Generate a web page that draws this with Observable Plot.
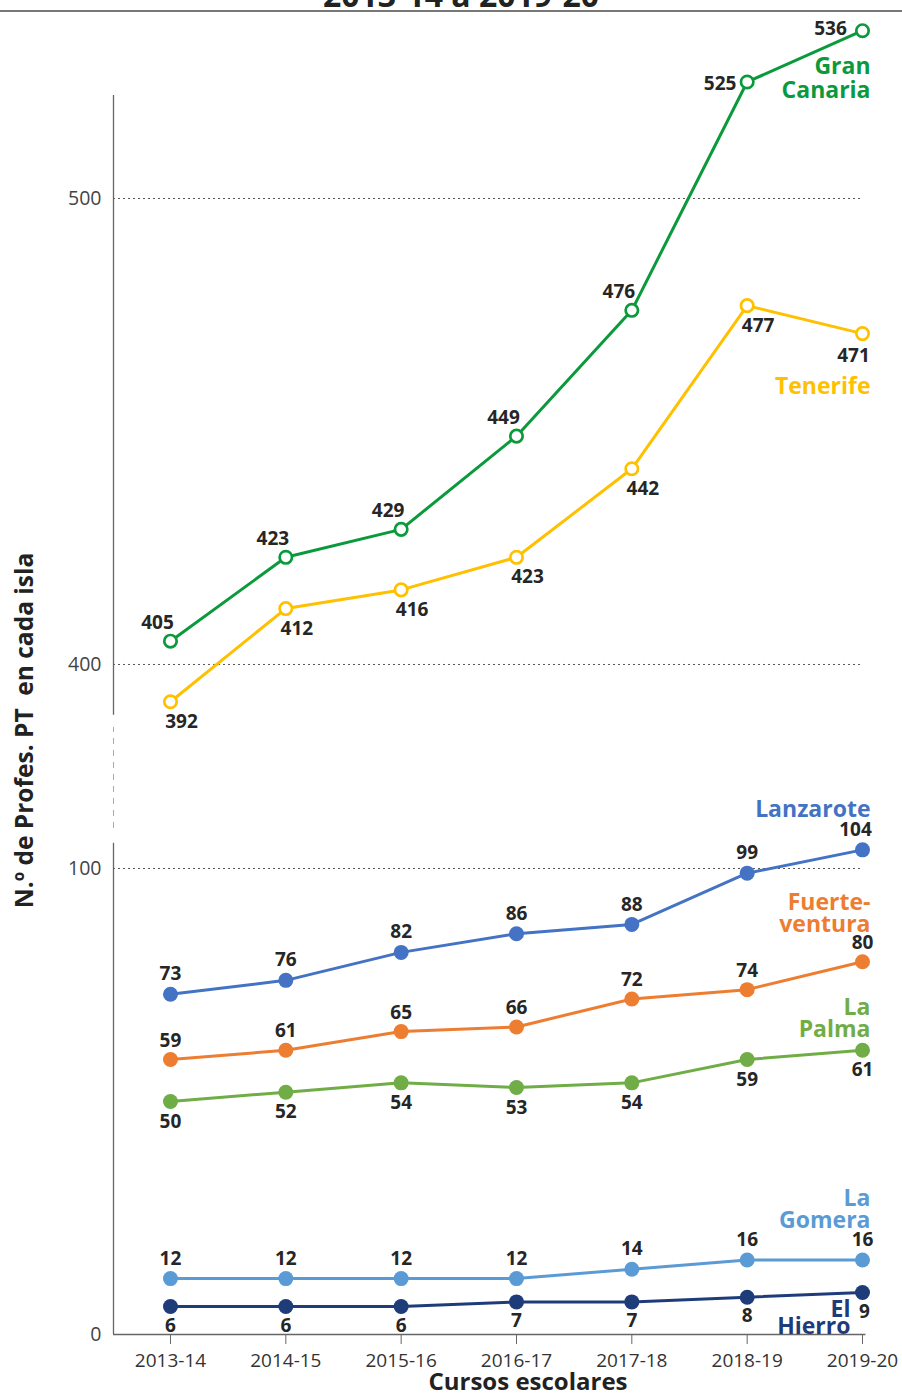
<!DOCTYPE html>
<html><head><meta charset="utf-8">
<script src="https://cdn.jsdelivr.net/npm/d3@7"></script>
<script src="https://cdn.jsdelivr.net/npm/@observablehq/plot@0.6"></script>
<style>
body{margin:0;background:#fff;font-family:"Open Sans",sans-serif;}
#title{height:10px;overflow:hidden;position:relative;border-bottom:2px solid #777;}
#title span{position:absolute;left:20px;right:0;text-align:center;top:-21px;line-height:32px;font-size:32px;font-weight:bold;color:#222;white-space:nowrap;}
</style></head><body>
<div id="title"><span>2013-14 a 2019-20</span></div>
<div id="chart"></div>
<script>
// ---- data ----
const courses = ["2013-14","2014-15","2015-16","2016-17","2017-18","2018-19","2019-20"];
const granCanaria   = [405,423,429,449,476,525,536];
const tenerife      = [392,412,416,423,442,477,471];
const lanzarote     = [73,76,82,86,88,99,104];
const fuerteventura = [59,61,65,66,72,74,80];
const laPalma       = [50,52,54,53,54,59,61];
const laGomera      = [12,12,12,12,14,16,16];
const elHierro      = [6,6,6,7,7,8,9];
const islandNames   = ["Gran Canaria","Tenerife","Lanzarote","Fuerteventura","La Palma","La Gomera","El Hierro"];
const islandLabels  = ["Gran\nCanaria","Tenerife","Lanzarote","Fuerte-\nventura","La\nPalma","La\nGomera","El\nHierro"];
const yTicks = [0,100,400,500];
const yLabel = "N.º de Profes. PT  en cada isla";
const xLabel = "Cursos escolares";

// ---- broken axis mapping ----
const OFFSET = 256.22;             // upper panel shifted down
const toAxis = v => v >= 300 ? v - OFFSET : v;
const fromAxis = d => Math.round(d > 140 ? d + OFFSET : d);
const xmin = -0.494;

const colors = ["#0a9a3c","#ffc000","#4472c4","#ed7d31","#70ad47","#5b9bd5","#1f3c7a"];
const allValues = [granCanaria,tenerife,lanzarote,fuerteventura,laPalma,laGomera,elHierro];

const rows = allValues.flatMap((vals,k)=>vals.map((v,i)=>({series:islandNames[k],k,i,v,y:toAxis(v)})));

// label placement per point
function place(d){
  switch(d.k){
    case 0: return d.i<5?[-13,-18]:(d.i===5?[-27,2]:[-32,-2]);
    case 1: return d.i<6?[11,20]:[-9,22];
    case 2: return [d.i===6?-7:0,-20];
    case 3: return [0,-19];
    case 4: return [0,20];
    case 5: return [0,-20];
    case 6: return [d.i===6?2:0,19];
  }
}
const groups = d3.groups(rows, d=>place(d).join(","));
const labelMarks = groups.map(([key,g])=>{
  const [dx,dy]=key.split(",").map(Number);
  return Plot.text(g,{x:"i",y:"y",text:"v",dx,dy,fontSize:19,fontWeight:"bold",fill:"#262626"});
});

// island name placement (value units, dx, line height)
const namePos = [[525.8,8,1.05],[459.6,8,1],[112.6,8,1],[90.3,8,0.97],[67.8,8,0.97],[26.8,8,0.97],[3.2,-12,0.74]];
const nameMarks = islandLabels.map((t,k)=>Plot.text([t],{
  x:6, y:toAxis(namePos[k][0]), dx:namePos[k][1], text:d=>d, textAnchor:"end",
  fill:colors[k], fontSize:23, fontWeight:"bold", lineHeight:namePos[k][2]
}));

// axis segments (value units)
const upperAxis = [389.1, 522.1];
const breakAxis = [108.6, 130.3];
const lowerAxis = [0, 105.4];

const upper = rows.filter(d=>d.k<2), lower = rows.filter(d=>d.k>=2);

const chart = Plot.plot({
  width:902, height:1384,
  marginLeft:113, marginRight:40, marginTop:0, marginBottom:62,
  style:{fontFamily:"'Open Sans',sans-serif",background:"#fff"},
  x:{type:"linear",domain:[xmin,6]},
  y:{domain:[0,283.69]},
  color:{domain:islandNames,range:colors},
  marks:[
    Plot.ruleY(yTicks.filter(t=>t>0).map(toAxis),{x1:xmin,x2:6,stroke:"#555",strokeDasharray:"2,3",strokeWidth:1}),
    Plot.ruleX([xmin],{y1:toAxis(upperAxis[0]),y2:toAxis(upperAxis[1]),stroke:"#666",strokeWidth:1.3}),
    Plot.ruleX([xmin],{y1:breakAxis[0],y2:breakAxis[1],stroke:"#aaa",strokeWidth:1,strokeDasharray:"6,6"}),
    Plot.ruleX([xmin],{y1:lowerAxis[0],y2:lowerAxis[1],stroke:"#666",strokeWidth:1.3}),
    Plot.ruleY([0],{x1:xmin,x2:6.03,stroke:"#666",strokeWidth:1.3}),
    Plot.axisX({ticks:d3.range(7),tickFormat:i=>courses[i],tickSize:10,tickPadding:9,fontSize:19,stroke:"#666",color:"#333",label:null}),
    Plot.axisY(yTicks.map(toAxis),{tickFormat:fromAxis,tickSize:0,tickPadding:12,fontSize:19.5,color:"#444",label:null}),
    Plot.text([xLabel],{frameAnchor:"bottom",dx:40,dy:55,text:d=>d,fontSize:24,fontWeight:"bold",fill:"#222"}),
    Plot.text([yLabel],{frameAnchor:"left",dx:-88,dy:57,rotate:-90,textAnchor:"middle",text:d=>d,fontSize:24.5,fontWeight:"bold",fill:"#222"}),
    Plot.line(rows,{x:"i",y:"y",z:"series",stroke:"series",strokeWidth:3}),
    Plot.dot(upper,{x:"i",y:"y",r:6.2,fill:"white",stroke:"series",strokeWidth:2.7}),
    Plot.dot(lower,{x:"i",y:"y",r:7.5,fill:"series",stroke:"none"}),
    ...labelMarks,
    ...nameMarks
  ]
});
document.getElementById("chart").append(chart);
</script>
</body></html>
